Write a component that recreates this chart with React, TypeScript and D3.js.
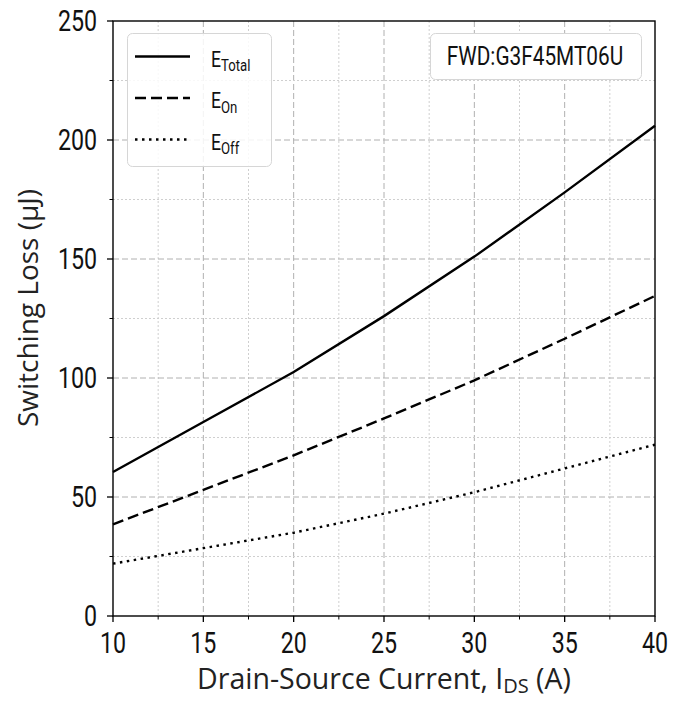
import React from "react";
import * as d3 from "d3";

const currents = [10, 15, 20, 25, 30, 35, 40];
const eTotal = [60.5, 81.5, 102.5, 126, 151, 178, 206];
const eOn = [38.5, 53, 67.5, 83, 99, 116.5, 134.5];
const eOff = [22, 28.5, 35, 43, 52, 62, 72];
const xTicks = [10, 15, 20, 25, 30, 35, 40];
const xMinor = [12.5, 17.5, 22.5, 27.5, 32.5, 37.5];
const yTicks = [0, 50, 100, 150, 200, 250];
const yMinor = [25, 75, 125, 175, 225];

const W = 684, H = 701;
const L = 113, R = 655, T = 21, B = 616;
const condensed = "Roboto, 'Liberation Sans Narrow', sans-serif";
const labelFont = "'Open Sans', 'Noto Sans', sans-serif";
const SX = 0.8;

function Cond({ x, y, anchor, size, children }: any) {
  return (
    <text x={0} y={y} textAnchor={anchor} fontFamily={condensed} fontSize={size} fill="#111"
      transform={`translate(${x},0) scale(${SX},1)`}>{children}</text>
  );
}

export default function App() {
  const x = d3.scaleLinear().domain([10, 40]).range([L, R]);
  const y = d3.scaleLinear().domain([0, 250]).range([B, T]);
  const line = (vals: number[]) =>
    d3.line<number>().x((_, i) => x(currents[i])).y((d) => y(d))(vals) || "";

  const series = [
    { vals: eTotal, dash: "none", name: "Total" },
    { vals: eOn, dash: "11,5", name: "On" },
    { vals: eOff, dash: "2.5,4.5", name: "Off" },
  ];

  return (
    <svg width={W} height={H} style={{ position: "absolute", left: 0, top: 0, background: "#fff" }}>
      <rect x={0} y={0} width={W} height={H} fill="#fff" />
      {/* grid */}
      {xTicks.slice(1, -1).map((t) => (
        <line key={"gx" + t} x1={x(t)} x2={x(t)} y1={T} y2={B} stroke="#b0b0b0" strokeWidth={1} strokeDasharray="6,3" />
      ))}
      {xMinor.map((t) => (
        <line key={"gxm" + t} x1={x(t)} x2={x(t)} y1={T} y2={B} stroke="#cfcfcf" strokeWidth={1} strokeDasharray="2,2" />
      ))}
      {yTicks.slice(1, -1).map((t) => (
        <line key={"gy" + t} x1={L} x2={R} y1={y(t)} y2={y(t)} stroke="#b0b0b0" strokeWidth={1} strokeDasharray="6,3" />
      ))}
      {yMinor.map((t) => (
        <line key={"gym" + t} x1={L} x2={R} y1={y(t)} y2={y(t)} stroke="#cfcfcf" strokeWidth={1} strokeDasharray="2,2" />
      ))}
      {/* series */}
      {series.map((s) => (
        <path key={s.name} d={line(s.vals)} fill="none" stroke="#000" strokeWidth={2.4}
          strokeDasharray={s.dash} />
      ))}
      {/* frame */}
      <rect x={L} y={T} width={R - L} height={B - T} fill="none" stroke="#000" strokeWidth={1.4} />
      {/* ticks */}
      {xTicks.map((t) => (
        <g key={"xt" + t}>
          <line x1={x(t)} x2={x(t)} y1={B} y2={B + 6} stroke="#000" strokeWidth={1.3} />
          <Cond x={x(t)} y={B + 37} anchor="middle" size={29}>{t}</Cond>
        </g>
      ))}
      {xMinor.map((t) => (
        <line key={"xm" + t} x1={x(t)} x2={x(t)} y1={B} y2={B + 3.5} stroke="#000" strokeWidth={1} />
      ))}
      {yTicks.map((t) => (
        <g key={"yt" + t}>
          <line x1={L - 6} x2={L} y1={y(t)} y2={y(t)} stroke="#000" strokeWidth={1.3} />
          <Cond x={L - 16} y={y(t) + 10.5} anchor="end" size={29}>{t}</Cond>
        </g>
      ))}
      {yMinor.map((t) => (
        <line key={"ym" + t} x1={L - 3.5} x2={L} y1={y(t)} y2={y(t)} stroke="#000" strokeWidth={1} />
      ))}
      {/* axis labels */}
      <text x={(L + R) / 2} y={689} textAnchor="middle" fontFamily={labelFont} fontSize={28.5} fill="#222">
        Drain-Source Current, I<tspan fontSize={20} dy={4}>DS</tspan><tspan dy={-4}> (A)</tspan>
      </text>
      <text transform={`translate(38,308) rotate(-90)`} textAnchor="middle" fontFamily={labelFont} fontSize={28} fill="#222">
        Switching Loss (μJ)
      </text>
      {/* legend */}
      <rect x={127.5} y={33.5} width={144} height={133} rx={5} fill="#fff" fillOpacity={0.85} stroke="#d6d6d6" strokeWidth={1} />
      {series.map((s, i) => {
        const ly = 56.5 + i * 41.5;
        return (
          <g key={"lg" + s.name}>
            <line x1={135} x2={190} y1={ly} y2={ly} stroke="#000" strokeWidth={2.4} strokeDasharray={s.dash} />
            <Cond x={211} y={ly + 10.5} anchor="start" size={22}>
              E<tspan fontSize={16.5} dy={4.5}>{s.name}</tspan>
            </Cond>
          </g>
        );
      })}
      {/* annotation */}
      <rect x={430.5} y={33.5} width={211} height={46} rx={5} fill="#fff" stroke="#d6d6d6" strokeWidth={1} />
      <Cond x={535} y={65} anchor="middle" size={26}>FWD:G3F45MT06U</Cond>
    </svg>
  );
}
